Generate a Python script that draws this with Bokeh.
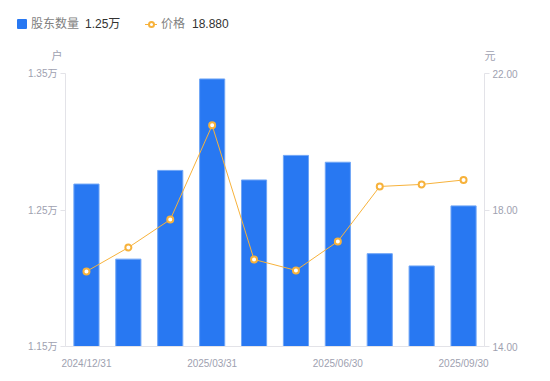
from bokeh.plotting import figure
from bokeh.layouts import column
from bokeh.models import (Range1d, LinearAxis, FixedTicker, PrintfTickFormatter,
                          CustomJSTickFormatter, ColumnDataSource, Div)
from bokeh.embed import file_html
from bokeh.resources import INLINE

dates = ["2024/12/31", "2025/01/31", "2025/02/28", "2025/03/31", "2025/04/30",
         "2025/05/31", "2025/06/30", "2025/07/31", "2025/08/31", "2025/09/30"]
holders = [1.269, 1.214, 1.279, 1.346, 1.272, 1.290, 1.285, 1.218, 1.209, 1.253]  # 万户
price = [16.20, 16.90, 17.72, 20.48, 16.55, 16.23, 17.08, 18.69, 18.75, 18.88]
shown_idx = [0, 3, 6, 9]
left_ticks = [1.15, 1.25, 1.35]
right_ticks = [14, 18, 22]
series_names = ["股东数量", "价格"]
axis_units = ["户", "元"]

FONT = "Liberation Sans, Noto Sans CJK SC"
GRAY = "#9ea1b0"
AXIS = "#e3e3e8"
BLUE = "#2878f2"
ORANGE = "#f7b23b"

HEADER_H = 66

idx = list(range(len(dates)))
src = ColumnDataSource(dict(i=idx, h=holders, p=price))

p = figure(x_range=Range1d(-0.5, len(dates) - 0.5),
           y_range=Range1d(left_ticks[0], left_ticks[-1]),
           frame_width=419, frame_height=273,
           min_border_left=65, min_border_right=58, min_border_top=73 - HEADER_H,
           min_border_bottom=27,
           output_backend="svg", toolbar_location=None, outline_line_color=None)
p.extra_y_ranges = {"price": Range1d(right_ticks[0], right_ticks[-1])}
p.xgrid.visible = False
p.ygrid.visible = False

p.vbar(x="i", top="h", bottom=left_ticks[0], width=0.6, source=src,
       fill_color=BLUE, line_color="#6fa5f6", line_width=1)
p.line(x="i", y="p", source=src, y_range_name="price", line_color=ORANGE, line_width=1)
p.scatter(x="i", y="p", source=src, y_range_name="price", size=6,
          fill_color="white", line_color=ORANGE, line_width=2)

la = p.yaxis[0]
la.ticker = FixedTicker(ticks=left_ticks)
la.formatter = PrintfTickFormatter(format="%.2f万")
ra = LinearAxis(y_range_name="price", ticker=FixedTicker(ticks=right_ticks),
                formatter=PrintfTickFormatter(format="%.2f"))
p.add_layout(ra, "right")

for ax in (la, ra):
    ax.axis_line_color = AXIS
    ax.major_tick_line_color = AXIS
    ax.major_tick_out = 5
    ax.major_tick_in = 0
    ax.minor_tick_line_color = None
    ax.major_label_text_color = GRAY
    ax.major_label_text_font = FONT
    ax.major_label_text_font_size = "10px"
    ax.major_label_standoff = 3

xa = p.xaxis[0]
xa.ticker = FixedTicker(ticks=shown_idx)
xa.formatter = CustomJSTickFormatter(args=dict(labels=dates),
                                     code="return labels[Math.round(tick)] || '';")
xa.axis_line_color = AXIS
xa.major_tick_line_color = None
xa.minor_tick_line_color = None
xa.major_label_text_color = GRAY
xa.major_label_text_font = FONT
xa.major_label_text_font_size = "10px"
xa.major_label_standoff = 5


def span(left, top, text, color, size=12, extra=""):
    return (f'<span style="position:absolute;left:{left}px;top:{top}px;line-height:14px;'
            f'font-size:{size}px;color:{color};white-space:nowrap;{extra}">{text}</span>')


last_h = f"{holders[-1]:.2f}万"
last_p = f"{price[-1]:.3f}"
html = (
    f'<div style="position:relative;width:542px;height:{HEADER_H}px;font-family:{FONT};">'
    f'<span style="position:absolute;left:17px;top:19px;width:10px;height:10px;'
    f'background:{BLUE};border-radius:1px;"></span>'
    + span(31, 17, series_names[0], "#7f7f7f")
    + span(85, 17, last_h, "#333333")
    + f'<span style="position:absolute;left:145px;top:23.5px;width:12px;height:1px;background:{ORANGE};"></span>'
    + f'<span style="position:absolute;left:147.5px;top:20.5px;width:7px;height:7px;box-sizing:border-box;'
      f'border:2px solid {ORANGE};border-radius:50%;background:#fff;"></span>'
    + span(161, 17, series_names[1], "#7f7f7f")
    + span(192, 17, last_p, "#333333")
    + span(47, 49, axis_units[0], GRAY, 11, "width:20px;text-align:center;")
    + span(480, 49, axis_units[1], GRAY, 11, "width:20px;text-align:center;")
    + '</div>'
)
header = Div(text=html, width=542, height=HEADER_H, margin=0)

layout = column(header, p, spacing=0, margin=0)

open("out.html", "w").write(file_html(layout, INLINE))
